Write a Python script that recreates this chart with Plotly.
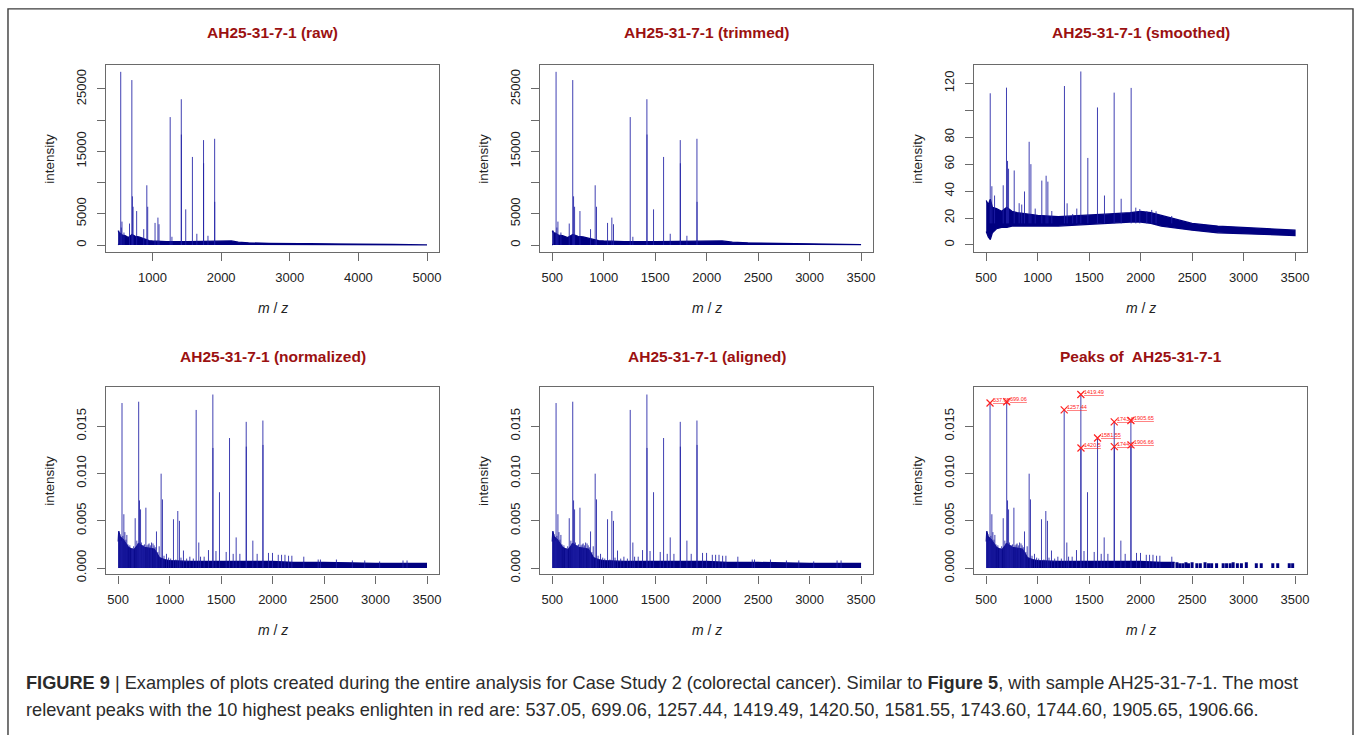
import plotly.graph_objects as go

W, H = 1358, 735

# ------------------------------------------------------------------ data
# raw / trimmed spectrum: peak sticks (m/z, intensity)
RAW_PEAK_MZ = [512, 537.05, 545, 555, 584, 665, 699.06, 707, 717, 769, 872, 917, 930, 1037, 1079,
               1095, 1257.44, 1283, 1419.49, 1420.50, 1484, 1581.55, 1646, 1743.60, 1744.60,
               1808, 1905.65, 1906.66]
RAW_PEAK_H = [2300, 27750, 2800, 3750, 2000, 3440, 26430, 7800, 6130, 5440, 2540, 9570, 6130, 3540,
              4390, 3330, 20500, 1320, 23360, 17700, 5710, 14110, 1800, 16810, 13100,
              1480, 17020, 6920]
# raw / trimmed noise band (upper and lower envelope)
RAW_BASE_MZ = [500, 510, 530, 560, 600, 650, 700, 750, 800, 850, 900, 950, 1000, 1200,
               1500, 1800, 2000, 2150, 2250, 2400, 2700, 3000, 3500, 4000, 4500, 5000]
RAW_BASE_HI = [2300, 2000, 1900, 1600, 1500, 1200, 1700, 1400, 1300, 1100, 900, 700, 650, 550,
               550, 650, 700, 650, 450, 350, 270, 220, 170, 130, 100, 80]
RAW_BASE_LO = [0, 150, 200, 200, 200, 180, 200, 200, 180, 170, 160, 150, 150, 150,
               160, 180, 200, 180, 140, 110, 90, 80, 60, 45, 30, 20]

# smoothed spectrum
SM_PEAK_MZ = [539, 555, 581, 665, 697, 707, 717, 772, 820, 845, 872, 917, 934, 976, 1040, 1082,
              1099, 1137, 1260, 1286, 1340, 1380, 1419, 1487, 1581, 1649, 1743, 1811, 1908,
              1953, 1992, 2060, 2108, 2150, 2302]
SM_PEAK_H = [112.6, 43.6, 36.7, 44.3, 116.8, 62.4, 56.6, 55.3, 31, 30, 39.7, 76.6, 60, 27, 47.8,
             51.4, 47, 25.2, 118, 30.9, 23, 27, 128.8, 64.6, 102.1, 36.7, 113.1, 34.3, 116.6,
             27.7, 26.7, 25, 26, 25, 21.5]
SM_BASE_MZ = [500, 520, 540, 560, 600, 650, 700, 750, 800, 900, 1000, 1200, 1500, 1700, 1900,
              2000, 2100, 2200, 2300, 2500, 2750, 3000, 3250, 3500]
SM_BASE_HI = [33, 30, 34, 28, 27, 25, 28, 25, 24, 23, 22, 21, 22, 23, 24,
              25, 24, 22, 20, 16, 14, 13, 12, 11]
SM_BASE_LO = [10, 6, 4, 9, 12, 13, 13, 14, 14, 14, 14, 14, 15, 16, 17,
              17, 16, 14, 13, 11, 9, 8, 7.5, 7]

# normalized / aligned spectrum
NORM_PEAK_MZ = [506, 516, 525, 530, 537.05, 545, 555, 565, 575, 584, 595, 613, 628, 639, 650, 665,
                681, 690, 699.06, 707, 717, 725, 736, 745, 755, 769, 780, 791, 800, 812, 824, 838,
                849, 860, 872, 885, 898, 917, 930, 945, 969, 990, 1010, 1037, 1060, 1079, 1095,
                1110, 1134, 1165, 1196, 1230, 1257.44, 1283, 1300, 1335, 1377, 1419.49, 1420.50,
                1450, 1484, 1549, 1581.55, 1617, 1646, 1682, 1743.60, 1744.60, 1808, 1850,
                1905.65, 1906.66, 1960, 1999, 2055, 2087, 2120, 2155, 2187, 2303, 2443, 2465,
                2620, 2775, 2895, 3040, 3267, 3306]
NORM_PEAK_H = [0.0039, 0.0036, 0.0032, 0.0029, 0.01745, 0.0034, 0.00569, 0.0038, 0.0030, 0.0035,
               0.0025, 0.0024, 0.0020, 0.0021, 0.0023, 0.00527, 0.0029, 0.0026, 0.01759, 0.00715,
               0.0062, 0.0027, 0.0024, 0.0024, 0.0025, 0.00638, 0.0024, 0.0025, 0.0026, 0.0024,
               0.0027, 0.0026, 0.0024, 0.0022, 0.00387, 0.0017, 0.0023, 0.00998, 0.00726, 0.0013,
               0.0015, 0.0011, 0.0010, 0.00516, 0.0009, 0.00603, 0.00499, 0.0011, 0.00185, 0.0010,
               0.0012, 0.0010, 0.01672, 0.0027, 0.0012, 0.0012, 0.0019, 0.01835, 0.0127,
               0.0018, 0.00802, 0.0017, 0.01375, 0.0015, 0.00324, 0.0015, 0.01546, 0.01284,
               0.0029, 0.0015, 0.0156, 0.01302, 0.0016, 0.0016, 0.0014, 0.0014, 0.0014, 0.0013,
               0.0013, 0.0012, 0.0009, 0.0009, 0.0009, 0.0008, 0.0008, 0.0007, 0.0008, 0.0008]
NORM_BASE_MZ = [500, 505, 520, 550, 600, 650, 700, 750, 800, 850, 880, 900, 950, 1000, 1200,
                1500, 1800, 2000, 2200, 2300, 2500, 3000, 3500]
NORM_BASE_HI = [0.0028, 0.0039, 0.0033, 0.0030, 0.0022, 0.0019, 0.0026, 0.0022, 0.0021, 0.0020,
                0.0015, 0.0011, 0.0009, 0.0008, 0.0007, 0.0007, 0.0007, 0.0007, 0.0006, 0.0006,
                0.0006, 0.0005, 0.0005]

# peaks panel: solid band up to ~2330, then discrete clusters
PK_BASE_MZ = [500, 505, 520, 550, 600, 650, 700, 750, 800, 850, 880, 900, 950, 1000, 1200,
              1500, 1800, 2000, 2200, 2330]
PK_BASE_HI = [0.0028, 0.0039, 0.0033, 0.0030, 0.0022, 0.0019, 0.0026, 0.0022, 0.0021, 0.0020,
              0.0015, 0.0011, 0.0009, 0.0008, 0.0007, 0.0007, 0.0007, 0.0007, 0.0006, 0.0006]
PK_TAIL_MZ = [2353, 2380, 2410, 2440, 2465, 2500, 2546, 2580, 2626, 2660, 2690, 2738, 2802,
              2835, 2870, 2899, 2940, 2979, 3027, 3124, 3172, 3284, 3332, 3444, 3477]
PK_TAIL_H = [0.0006, 0.0005, 0.0005, 0.0006, 0.0005, 0.0006, 0.0005, 0.0005, 0.0006, 0.0005,
             0.0005, 0.0005, 0.0005, 0.0005, 0.0005, 0.0006, 0.0005, 0.0005, 0.0006, 0.0005,
             0.0005, 0.0005, 0.0005, 0.0005, 0.0005]

# 10 highest peaks (red labels)
TOP_MZ = [537.05, 699.06, 1257.44, 1419.49, 1420.50, 1581.55, 1743.60, 1744.60, 1905.65, 1906.66]
TOP_H = [0.01745, 0.01759, 0.01672, 0.01835, 0.0127, 0.01375, 0.01546, 0.01284, 0.0156, 0.01302]
TOP_LABELS = ["537.05", "699.06", "1257.44", "1419.49", "1420.5", "1581.55", "1743.6",
              "1744.6", "1905.65", "1906.66"]

TITLES = ["AH25-31-7-1 (raw)", "AH25-31-7-1 (trimmed)", "AH25-31-7-1 (smoothed)",
          "AH25-31-7-1 (normalized)", "AH25-31-7-1 (aligned)", "Peaks of  AH25-31-7-1"]

CAPTION_1 = ("<b>FIGURE 9</b> | Examples of plots created during the entire analysis for Case Study 2 "
             "(colorectal cancer). Similar to <b>Figure 5</b>, with sample AH25-31-7-1. The most")
CAPTION_2 = ("relevant peaks with the 10 highest peaks enlighten in red are: 537.05, 699.06, 1257.44, "
             "1419.49, 1420.50, 1581.55, 1743.60, 1744.60, 1905.65, 1906.66.")

# ------------------------------------------------------------------ style
NAVY = "#000080"
STICK = "rgba(30,30,165,0.85)"
FONT = "Liberation Sans, Arial, Helvetica, sans-serif"
TITLE_RED = "#9b1111"
BOX = "#6a6a6a"
RED = "#ff2020"

# panel boxes in pixels: (left, right, top, bottom)
COLS = [(106, 440), (540.7, 874.7), (975.3, 1309.3)]
ROWS = [(66, 255), (391.7, 580.7)]


def xd(a, b):
    return [a / W, b / W]


def yd(top, bottom):
    return [(H - bottom) / H, (H - top) / H]


fig = go.Figure()


def sticks(mz, h, xa, ya, keep=None, color=STICK, width=1.0, base=0):
    xs, ys = [], []
    for m, v in zip(mz, h):
        if keep is not None and not keep(m):
            continue
        xs += [m, m, None]
        ys += [base, v, None]
    fig.add_trace(go.Scatter(x=xs, y=ys, mode="lines", xaxis=xa, yaxis=ya,
                             line=dict(color=color, width=width), hoverinfo="skip",
                             showlegend=False))


def band(mz, hi, lo, xa, ya, keep=None):
    pts = [(m, a, b) for m, a, b in zip(mz, hi, lo) if keep is None or keep(m)]
    xs = [p[0] for p in pts] + [p[0] for p in pts[::-1]]
    ys = [p[1] for p in pts] + [p[2] for p in pts[::-1]]
    fig.add_trace(go.Scatter(x=xs, y=ys, mode="lines", fill="toself", fillcolor=NAVY,
                             xaxis=xa, yaxis=ya, line=dict(color=NAVY, width=1.2),
                             hoverinfo="skip", showlegend=False))


def band0(mz, hi, xa, ya):
    fig.add_trace(go.Scatter(x=mz, y=hi, mode="lines", fill="tozeroy", fillcolor=NAVY,
                             xaxis=xa, yaxis=ya, line=dict(color=NAVY, width=1.2),
                             hoverinfo="skip", showlegend=False))


# panel 1: raw
band(RAW_BASE_MZ, RAW_BASE_HI, RAW_BASE_LO, "x", "y")
sticks(RAW_PEAK_MZ, RAW_PEAK_H, "x", "y")
# panel 2: trimmed
band(RAW_BASE_MZ, RAW_BASE_HI, RAW_BASE_LO, "x2", "y2", keep=lambda m: m <= 3500)
sticks(RAW_PEAK_MZ, RAW_PEAK_H, "x2", "y2")
# panel 3: smoothed (sticks rise from the noise band)
band(SM_BASE_MZ, SM_BASE_HI, SM_BASE_LO, "x3", "y3")
sticks(SM_PEAK_MZ, SM_PEAK_H, "x3", "y3", base=16)
# panel 4: normalized
band0(NORM_BASE_MZ, NORM_BASE_HI, "x4", "y4")
sticks(NORM_PEAK_MZ, NORM_PEAK_H, "x4", "y4")
# panel 5: aligned
band0(NORM_BASE_MZ, NORM_BASE_HI, "x5", "y5")
sticks(NORM_PEAK_MZ, NORM_PEAK_H, "x5", "y5")
# panel 6: peaks
band0(PK_BASE_MZ, PK_BASE_HI, "x6", "y6")
sticks(NORM_PEAK_MZ, NORM_PEAK_H, "x6", "y6", keep=lambda m: m < 2330)
sticks(PK_TAIL_MZ, PK_TAIL_H, "x6", "y6", color=NAVY, width=3)
fig.add_trace(go.Scatter(x=TOP_MZ, y=TOP_H, mode="markers", xaxis="x6", yaxis="y6",
                         marker=dict(symbol="x-thin", size=7, line=dict(color=RED, width=1.2)),
                         hoverinfo="skip", showlegend=False))

# ------------------------------------------------------------------ axes
tickfont = dict(family=FONT, size=13, color="#222222")


def xaxis_cfg(col, row, rng, tickvals):
    return dict(domain=xd(*COLS[col]), range=rng, tickvals=tickvals,
                ticktext=[str(v) for v in tickvals], showline=True, linecolor=BOX,
                linewidth=1.3, mirror=True, ticks="outside", ticklen=8, tickcolor=BOX,
                tickwidth=1.2, showgrid=False, zeroline=False, tickfont=tickfont,
                ticklabelstandoff=5, fixedrange=True)


def yaxis_cfg(col, row, rng, tickvals, ticktext, anchor):
    return dict(domain=yd(*ROWS[row]), range=rng, tickvals=tickvals, ticktext=ticktext,
                showline=True, linecolor=BOX, linewidth=1.3, mirror=True, ticks="outside",
                ticklen=8, tickcolor=BOX, tickwidth=1.2, showgrid=False, zeroline=False,
                tickfont=tickfont, tickangle=-90, ticklabelstandoff=6, anchor=anchor,
                fixedrange=True)


X_RAW = [1000, 2000, 3000, 4000, 5000]
X_STD = [500, 1000, 1500, 2000, 2500, 3000, 3500]
Y_RAW = [0, 5000, 10000, 15000, 20000, 25000]
Y_RAW_T = ["0", "5000", "", "15000", "", "25000"]
Y_SM = [0, 20, 40, 60, 80, 100, 120]
Y_SM_T = ["0", "20", "40", "60", "80", "", "120"]
Y_NORM = [0, 0.005, 0.010, 0.015]
Y_NORM_T = ["0.000", "0.005", "0.010", "0.015"]

layout = dict(
    width=W, height=H, margin=dict(l=0, r=0, t=0, b=0),
    paper_bgcolor="white", plot_bgcolor="white", showlegend=False,
    xaxis=dict(xaxis_cfg(0, 0, [320, 5180], X_RAW), anchor="y"),
    yaxis=yaxis_cfg(0, 0, [-1157, 28800], Y_RAW, Y_RAW_T, "x"),
    xaxis2=dict(xaxis_cfg(1, 0, [380, 3620], X_STD), anchor="y2"),
    yaxis2=yaxis_cfg(1, 0, [-1157, 28800], Y_RAW, Y_RAW_T, "x2"),
    xaxis3=dict(xaxis_cfg(2, 0, [380, 3620], X_STD), anchor="y3"),
    yaxis3=yaxis_cfg(2, 0, [-5.4, 133.4], Y_SM, Y_SM_T, "x3"),
    xaxis4=dict(xaxis_cfg(0, 1, [380, 3620], X_STD), anchor="y4"),
    yaxis4=yaxis_cfg(0, 1, [-0.00067, 0.0191], Y_NORM, Y_NORM_T, "x4"),
    xaxis5=dict(xaxis_cfg(1, 1, [380, 3620], X_STD), anchor="y5"),
    yaxis5=yaxis_cfg(1, 1, [-0.00067, 0.0191], Y_NORM, Y_NORM_T, "x5"),
    xaxis6=dict(xaxis_cfg(2, 1, [380, 3620], X_STD), anchor="y6"),
    yaxis6=yaxis_cfg(2, 1, [-0.00067, 0.0191], Y_NORM, Y_NORM_T, "x6"),
)

annotations = []
title_y = [33, 360]
xlab_y = [311, 637]
for i, t in enumerate(TITLES):
    c, r = i % 3, i // 3
    cx = (COLS[c][0] + COLS[c][1]) / 2
    annotations.append(dict(text="<b>%s</b>" % t, x=cx / W, y=(H - title_y[r]) / H,
                            xref="paper", yref="paper", showarrow=False,
                            font=dict(family=FONT, size=15.5, color=TITLE_RED),
                            xanchor="center", yanchor="middle"))
    annotations.append(dict(text="<i>m</i> / <i>z</i>", x=cx / W, y=(H - xlab_y[r]) / H,
                            xref="paper", yref="paper", showarrow=False,
                            font=dict(family=FONT, size=14, color="#222222"),
                            xanchor="center", yanchor="middle"))
    ycen = (ROWS[r][0] + ROWS[r][1]) / 2
    annotations.append(dict(text="intensity", x=(COLS[c][0] - 56) / W, y=(H - ycen) / H,
                            xref="paper", yref="paper", showarrow=False, textangle=-90,
                            font=dict(family=FONT, size=13.5, color="#222222"),
                            xanchor="center", yanchor="middle"))

# red peak labels (data coordinates on the peaks panel)
for m, h, lab in zip(TOP_MZ, TOP_H, TOP_LABELS):
    annotations.append(dict(text="<u>%s</u>" % lab, x=m, y=h, xref="x6", yref="y6",
                            showarrow=False, xanchor="left", yanchor="middle",
                            xshift=2, yshift=3, borderpad=0,
                            font=dict(family=FONT, size=5.5, color=RED)))

CAP_FONT = dict(family=FONT, size=18.2, color="#2b2b2b")
annotations.append(dict(text=CAPTION_1, x=24 / W, y=(H - 691) / H, xref="paper", yref="paper",
                        showarrow=False, xanchor="left", yanchor="middle", font=CAP_FONT))
annotations.append(dict(text=CAPTION_2, x=24 / W, y=(H - 718) / H, xref="paper", yref="paper",
                        showarrow=False, xanchor="left", yanchor="middle", font=CAP_FONT))

layout["annotations"] = annotations
layout["shapes"] = [dict(type="rect", xref="paper", yref="paper", x0=8 / W, x1=1355 / W,
                         y0=-0.05, y1=(H - 9) / H, line=dict(color="#3c3c3c", width=1.4))]

fig.update_layout(**layout)
fig.write_html("out.html")
